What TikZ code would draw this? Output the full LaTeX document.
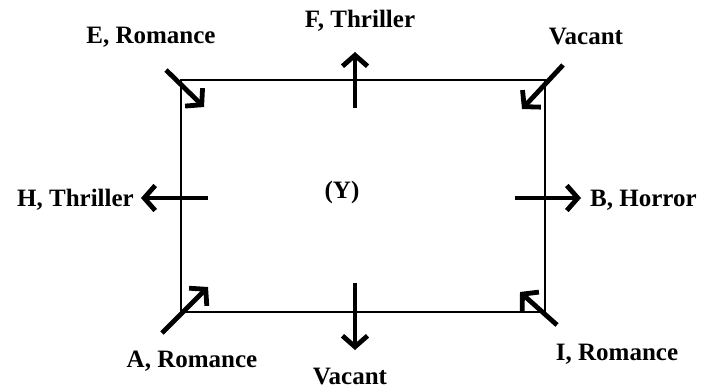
\documentclass[tikz,border=0pt]{standalone}
\usepackage{fontspec}
\setmainfont{Liberation Serif}
\usetikzlibrary{arrows.meta}

\tikzset{
  lbl/.style={font=\bfseries\fontsize{25}{27}\selectfont, inner sep=0pt},
  seat/.style={-{Straight Barb[length=11pt,width=25pt]}, line width=4.8pt},
}

\begin{document}
\begin{tikzpicture}[x=1pt, y=-1pt]
  \useasboundingbox (0,0) rectangle (706,391);
  \node[draw, line width=1.5pt, minimum width=364pt, minimum height=232pt, inner sep=0pt] (room) at (363,196) {};
  \node[lbl] (mid) at (342,192) {(Y)};

  % labels round the room
  \node[lbl] (e) at (151,37) {E, Romance};
  \node[lbl] (f) at (360,21) {F, Thriller};
  \node[lbl] (vt) at (586,37) {Vacant};
  \node[lbl, anchor=east] (h) at (134,200) {H, Thriller};
  \node[lbl, anchor=west] (b) at (590,200) {B, Horror};
  \node[lbl] (a) at (192,361) {A, Romance};
  \node[lbl] (vb) at (350,376) {Vacant};
  \node[lbl] (i) at (617,354) {I, Romance};

  % arrow ends
  \coordinate (eTail) at (166,70);  \coordinate (eTip) at (204,107);
  \coordinate (fTail) at (355,108); \coordinate (fTip) at (355,52);
  \coordinate (vtTail) at (563,65); \coordinate (vtTip) at (522,109);
  \coordinate (hTail) at (208,198); \coordinate (hTip) at (141,198);
  \coordinate (bTail) at (515,198); \coordinate (bTip) at (581,198);
  \coordinate (aTail) at (162,333); \coordinate (aTip) at (208,287);
  \coordinate (vbTail) at (355,283); \coordinate (vbTip) at (355,350);
  \coordinate (iTail) at (557,325); \coordinate (iTip) at (520,292);

  \draw[seat] (eTail) -- (eTip);
  \draw[seat] (fTail) -- (fTip);
  \draw[seat] (vtTail) -- (vtTip);
  \draw[seat] (hTail) -- (hTip);
  \draw[seat] (bTail) -- (bTip);
  \draw[seat] (aTail) -- (aTip);
  \draw[seat] (vbTail) -- (vbTip);
  \draw[seat] (iTail) -- (iTip);
\end{tikzpicture}
\end{document}
